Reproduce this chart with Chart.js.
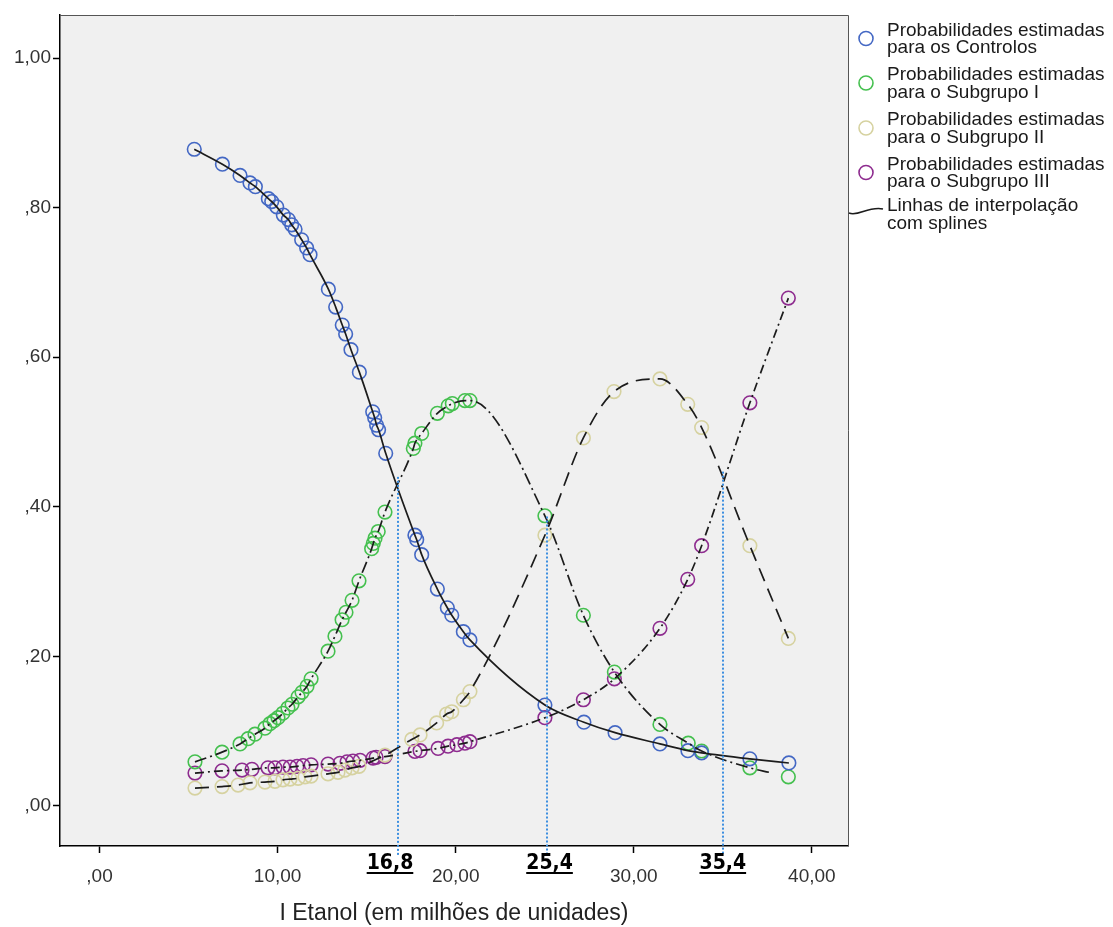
<!DOCTYPE html>
<html>
<head>
<meta charset="utf-8">
<script src="https://cdn.jsdelivr.net/npm/chart.js@4.4.0/dist/chart.umd.min.js"></script>
<style>
  body { margin: 0; background: #fff; }
</style>
</head>
<body>
<canvas id="chart" width="1113" height="927"></canvas>
<script>
// valores (x = I Etanol, y = probabilidade estimada)
const ctrlX = [5.32, 6.90, 7.89, 8.45, 8.75, 9.48, 9.67, 9.95, 10.32, 10.60, 10.79, 10.98, 11.35, 11.63, 11.82, 12.85, 13.26, 13.63, 13.82, 14.12, 14.59, 15.34, 15.45, 15.56, 15.67, 16.07, 17.71, 17.81, 18.09, 18.97, 19.53, 19.78, 20.43, 20.80, 25.01, 27.20, 28.95, 31.47, 33.04, 33.81, 36.52, 38.71];
const ctrlY = [0.878, 0.858, 0.843, 0.833, 0.828, 0.812, 0.808, 0.801, 0.790, 0.784, 0.777, 0.771, 0.757, 0.746, 0.737, 0.691, 0.667, 0.643, 0.631, 0.610, 0.580, 0.527, 0.519, 0.509, 0.503, 0.4715, 0.362, 0.356, 0.336, 0.290, 0.265, 0.255, 0.233, 0.222, 0.135, 0.112, 0.098, 0.083, 0.074, 0.071, 0.063, 0.0575];

const sub1X = [5.36, 6.88, 7.89, 8.34, 8.73, 9.29, 9.57, 9.80, 10.02, 10.30, 10.58, 10.81, 11.15, 11.37, 11.65, 11.88, 12.83, 13.22, 13.62, 13.84, 14.18, 14.57, 15.28, 15.37, 15.47, 15.65, 16.03, 17.62, 17.71, 18.09, 18.97, 19.58, 19.81, 20.52, 20.80, 25.01, 27.17, 28.91, 31.47, 33.06, 33.81, 36.52, 38.68];
const sub1Y = [0.059, 0.072, 0.083, 0.090, 0.096, 0.104, 0.110, 0.114, 0.118, 0.124, 0.131, 0.136, 0.146, 0.152, 0.160, 0.170, 0.207, 0.227, 0.249, 0.259, 0.275, 0.301, 0.344, 0.351, 0.358, 0.367, 0.393, 0.478, 0.485, 0.498, 0.525, 0.535, 0.538, 0.542, 0.542, 0.388, 0.255, 0.179, 0.109, 0.084, 0.0735, 0.051, 0.039];

const sub2X = [5.36, 6.88, 7.78, 8.45, 9.29, 9.85, 10.30, 10.70, 11.15, 11.54, 11.88, 12.83, 13.39, 13.78, 14.18, 14.57, 16.03, 17.53, 18.00, 18.93, 19.49, 19.78, 20.43, 20.80, 25.01, 27.17, 28.89, 31.47, 33.03, 33.81, 36.52, 38.68];
const sub2Y = [0.024, 0.026, 0.028, 0.031, 0.032, 0.033, 0.035, 0.036, 0.037, 0.039, 0.040, 0.043, 0.045, 0.048, 0.051, 0.053, 0.068, 0.089, 0.095, 0.111, 0.123, 0.126, 0.142, 0.153, 0.362, 0.492, 0.554, 0.571, 0.537, 0.506, 0.348, 0.224];

const sub3X = [5.36, 6.88, 8.00, 8.56, 9.46, 9.85, 10.30, 10.70, 11.09, 11.43, 11.88, 12.83, 13.50, 13.90, 14.23, 14.63, 15.36, 15.53, 16.03, 17.71, 18.00, 19.01, 19.57, 20.07, 20.52, 20.80, 25.01, 27.17, 28.91, 31.47, 33.03, 33.81, 36.52, 38.68];
const sub3Y = [0.044, 0.047, 0.048, 0.049, 0.051, 0.051, 0.052, 0.052, 0.053, 0.054, 0.055, 0.056, 0.057, 0.059, 0.060, 0.061, 0.064, 0.065, 0.066, 0.073, 0.074, 0.077, 0.080, 0.082, 0.084, 0.086, 0.118, 0.142, 0.170, 0.2375, 0.303, 0.348, 0.539, 0.679];

// linha do subgrupo I termina antes do último ponto
const sub1LineEnd = 37.65;

const xTicks = [0, 10, 20, 30, 40];
const yTicks = [0, 0.2, 0.4, 0.6, 0.8, 1.0];

// linhas de corte (azul pontilhado)
const cutX = [16.78, 25.11, 34.99];
const cutTop = [0.44, 0.387, 0.447];
const cutLabels = ['16,8', '25,4', '35,4'];
const cutLabelX = [16.31, 25.27, 35.0];

const legendLines = [
    ['Probabilidades estimadas', 'para os Controlos'],
    ['Probabilidades estimadas', 'para o Subgrupo I'],
    ['Probabilidades estimadas', 'para o Subgrupo II'],
    ['Probabilidades estimadas', 'para o Subgrupo III'],
    ['Linhas de interpolação', 'com splines']
];

const colors = ['#4468c4', '#45c04f', '#d6d2a0', '#8e2c8f'];
const dashes = [[], [12, 4, 2, 4], [14, 8], [9, 4, 2, 4]];

function pts(xs, ys) {
    return xs.map((x, i) => ({ x: x, y: ys[i] }));
}

function fmt(v) {
    return v.toFixed(2).replace('.', ',').replace(/^0/, '');
}

const series = [
    pts(ctrlX, ctrlY),
    pts(sub1X, sub1Y),
    pts(sub2X, sub2Y),
    pts(sub3X, sub3Y)
];

const datasets = [];
series.forEach((data, i) => {
    let lineData = data;
    if (i === 1) {
        const last = data[data.length - 1];
        const prev = data[data.length - 2];
        const t = (sub1LineEnd - prev.x) / (last.x - prev.x);
        lineData = data.slice(0, -1).concat([{ x: sub1LineEnd, y: prev.y + t * (last.y - prev.y) }]);
    }
    datasets.push({
        data: lineData,
        showLine: true,
        borderColor: '#1c1c1c',
        borderWidth: 1.7,
        borderDash: dashes[i],
        cubicInterpolationMode: 'monotone',
        pointRadius: 0,
        order: 0
    });
    datasets.push({
        data: data,
        showLine: false,
        pointStyle: 'circle',
        pointRadius: 6.8,
        pointBorderWidth: 1.6,
        pointBorderColor: colors[i],
        pointBackgroundColor: 'rgba(0,0,0,0)',
        order: 1
    });
});

const framePlugin = {
    id: 'frame',
    beforeDraw(chart) {
        const { ctx, chartArea: a } = chart;
        ctx.save();
        ctx.fillStyle = '#ffffff';
        ctx.fillRect(0, 0, chart.width, chart.height);
        ctx.fillStyle = '#f0f0f0';
        ctx.fillRect(a.left, a.top, a.right - a.left, a.bottom - a.top);
        ctx.restore();
    },
    afterDatasetsDraw(chart) {
        const { ctx, chartArea: a, scales } = chart;
        ctx.save();
        ctx.strokeStyle = '#3d8fe0';
        ctx.lineWidth = 2;
        ctx.setLineDash([2, 2]);
        cutX.forEach((v, i) => {
            const px = Math.round(scales.x.getPixelForValue(v));
            ctx.beginPath();
            ctx.moveTo(px, scales.y.getPixelForValue(cutTop[i]));
            ctx.lineTo(px, a.bottom + 9);
            ctx.stroke();
        });
        ctx.restore();
    },
    afterDraw(chart) {
        const { ctx, chartArea: a, scales } = chart;
        ctx.save();
        // moldura
        ctx.strokeStyle = '#555';
        ctx.lineWidth = 1;
        ctx.beginPath();
        ctx.moveTo(a.left, a.top + 0.5);
        ctx.lineTo(a.right + 0.5, a.top + 0.5);
        ctx.lineTo(a.right + 0.5, a.bottom);
        ctx.stroke();

        // rótulos das linhas de corte
        ctx.font = 'bold 21px "DejaVu Sans Condensed", "DejaVu Sans"';
        ctx.fillStyle = '#000';
        ctx.textAlign = 'center';
        ctx.textBaseline = 'alphabetic';
        cutLabels.forEach((t, i) => {
            const px = scales.x.getPixelForValue(cutLabelX[i]);
            const w = ctx.measureText(t).width;
            ctx.fillText(t, px, 869);
            ctx.fillRect(px - w / 2, 872, w, 2);
        });

        // legenda
        const centers = [30.5, 75, 120, 164.5, 206];
        ctx.font = '19px "Liberation Sans", Arial';
        ctx.textAlign = 'left';
        ctx.textBaseline = 'middle';
        legendLines.forEach((lines, i) => {
            const y0 = centers[i];
            ctx.fillStyle = '#1a1a1a';
            ctx.fillText(lines[0], 887, y0);
            ctx.fillText(lines[1], 887, y0 + 17.5);
            if (i < 4) {
                ctx.beginPath();
                ctx.arc(866, y0 + 8, 7, 0, Math.PI * 2);
                ctx.strokeStyle = colors[i];
                ctx.lineWidth = 1.6;
                ctx.stroke();
            } else {
                ctx.beginPath();
                ctx.moveTo(849, y0 + 7);
                ctx.bezierCurveTo(858, y0 + 11, 868, y0, 883, y0 + 3);
                ctx.strokeStyle = '#1c1c1c';
                ctx.lineWidth = 1.6;
                ctx.stroke();
            }
        });
        ctx.restore();
    }
};

new Chart(document.getElementById('chart'), {
    type: 'scatter',
    data: { datasets: datasets },
    plugins: [framePlugin],
    options: {
        responsive: false,
        animation: false,
        layout: { padding: { top: 15, right: 265, left: 0, bottom: 0 } },
        plugins: {
            legend: { display: false },
            tooltip: { enabled: false }
        },
        scales: {
            x: {
                type: 'linear',
                min: -2.22,
                max: 42.03,
                afterBuildTicks: s => { s.ticks = xTicks.map(v => ({ value: v })); },
                afterFit: s => { s.height = 81; },
                grid: { drawOnChartArea: false, tickLength: 7, color: '#000', tickWidth: 1.5 },
                border: { color: '#000', width: 1.5 },
                ticks: {
                    callback: v => fmt(v),
                    font: { family: '"Liberation Sans", Arial', size: 19 },
                    color: '#333',
                    padding: 12,
                    maxRotation: 0
                },
                title: {
                    display: true,
                    text: 'I Etanol (em milhões de unidades)',
                    font: { family: '"Liberation Sans", Arial', size: 23 },
                    color: '#222',
                    padding: { top: 0, bottom: 0 }
                }
            },
            y: {
                type: 'linear',
                min: -0.0535,
                max: 1.0575,
                afterBuildTicks: s => { s.ticks = yTicks.map(v => ({ value: v })); },
                afterFit: s => { s.width = 60; },
                grid: { drawOnChartArea: false, tickLength: 7, color: '#000', tickWidth: 1.5 },
                border: { color: '#000', width: 1.5 },
                ticks: {
                    callback: v => fmt(v),
                    font: { family: '"Liberation Sans", Arial', size: 19 },
                    color: '#333',
                    padding: 2
                }
            }
        }
    }
});
</script>
</body>
</html>
